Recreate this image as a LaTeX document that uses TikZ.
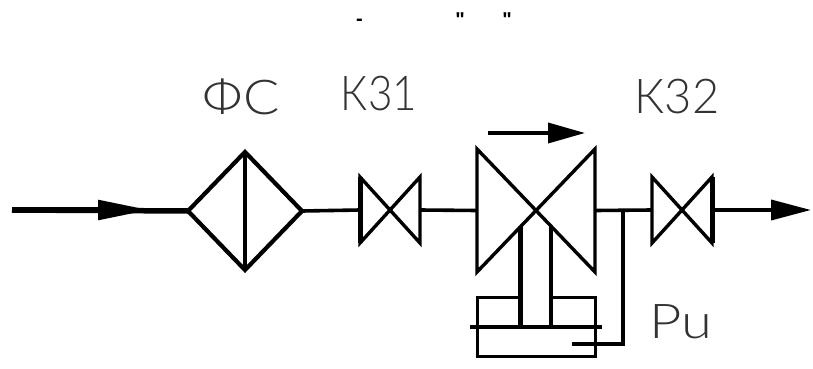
\documentclass[tikz,border=0pt]{standalone}
\usepackage{fontspec}
\setmainfont{Lato}[UprightFont=* Light]
\newfontfamily\plainfont{Liberation Sans}
\usetikzlibrary{positioning, arrows.meta, shapes.geometric}

\tikzset{
    pipe/.style = {line width=3.6pt, line cap=butt, line join=miter},
    thinpipe/.style = {line width=3.4pt},
    valve/.style = {shape=rectangle, inner sep=0pt, outer sep=0pt},
    filter/.style = {shape=diamond, draw, line width=4.2pt, inner sep=0pt, outer sep=0pt,
        minimum width=114pt, minimum height=118pt, aspect=1},
    tag/.style = {inner sep=0pt, outer sep=0pt, text=black!80, font=\fontsize{48}{48}\selectfont},
    topmark/.style = {inner sep=0pt, outer sep=0pt, font=\plainfont\bfseries\fontsize{20}{20}\selectfont}
}

\newcommand{\valvebody}[1]{
    \draw[thinpipe] (#1.north west) -- (#1.south east) -- (#1.north east) -- (#1.south west) -- cycle;
}

\begin{document}
\begin{tikzpicture}[x=1pt, y=-1pt]
    \useasboundingbox (0,0) rectangle (813,369);

    % top marks
    \node[topmark] (dash) at (359.5,22) {-};
    \node[topmark] (quoteleft) at (460,20) {"};
    \node[topmark] (quoteright) at (507,20) {"};

    % units
    \node[filter] (fs) at (245,211) {};
    \node[valve, minimum width=60pt, minimum height=66pt] (k31) at (390,210) {};
    \node[valve, minimum width=118pt, minimum height=123pt] (main) at (536,210.5) {};
    \node[valve, minimum width=60pt, minimum height=66pt] (k32) at (682,210) {};
    \valvebody{k31}
    \valvebody{main}
    \valvebody{k32}
    \draw[line width=5pt] (k31.north west) -- (k31.south west);
    \draw[line width=5pt] (k32.north east) -- (k32.south east);
    \draw[thinpipe] (fs.north) -- (fs.south);

    % actuator
    \node[draw, line width=3pt, minimum width=118pt, minimum height=59pt, inner sep=0pt, outer sep=0pt] (drive) at (536,326.5) {};
    \fill[white] (522,293) rectangle (549,301);
    \coordinate (stema) at (520,226);
    \coordinate (stemb) at (551,226);
    \coordinate (stemc) at (520,327);
    \coordinate (stemd) at (551,327);
    \draw[line width=5pt] (stema) -- (stemc);
    \draw[line width=3.8pt] (stemb) -- (stemd);
    \coordinate (pistona) at (470,327);
    \coordinate (pistonb) at (602,327);
    \draw[thinpipe] (pistona) -- (pistonb);

    % pipes
    \coordinate (inlet) at (12,210);
    \coordinate (inlettip) at (150,210);
    \coordinate (outlet) at (811,210);
    \coordinate (tap) at (623,210);
    \coordinate (tapbend) at (623,344);
    \coordinate (tapend) at (572,344);
    \draw[line width=5.5pt] (inlet) -- (fs.west);
    \draw[line width=5.5pt, -{Triangle[length=52pt, width=19pt]}] (inlet) -- (inlettip);
    \draw[pipe] (fs.east) -- (k31.west);
    \draw[pipe] (k31.east) -- (main.west);
    \draw[pipe] (main.east) -- (k32.west);
    \draw[pipe, -{Triangle[length=40pt, width=20pt]}] (k32.east) -- (outlet);
    \draw[thinpipe] (tap) -- (tapbend) -- (tapend);

    % flow direction
    \coordinate (flowa) at (488,133);
    \coordinate (flowb) at (585,133);
    \draw[pipe, -{Triangle[length=37pt, width=20pt]}] (flowa) -- (flowb);

    % labels
    \node[tag, xscale=1.12] (fslabel) at (241,97) {ФС};
    \node[tag, xscale=0.88] (k31label) at (379,94) {К31};
    \node[tag, xscale=0.98] (k32label) at (677,97) {К32};
    \node[tag, xscale=1.17] (pulabel) at (681,322) {Pu};
\end{tikzpicture}
\end{document}
